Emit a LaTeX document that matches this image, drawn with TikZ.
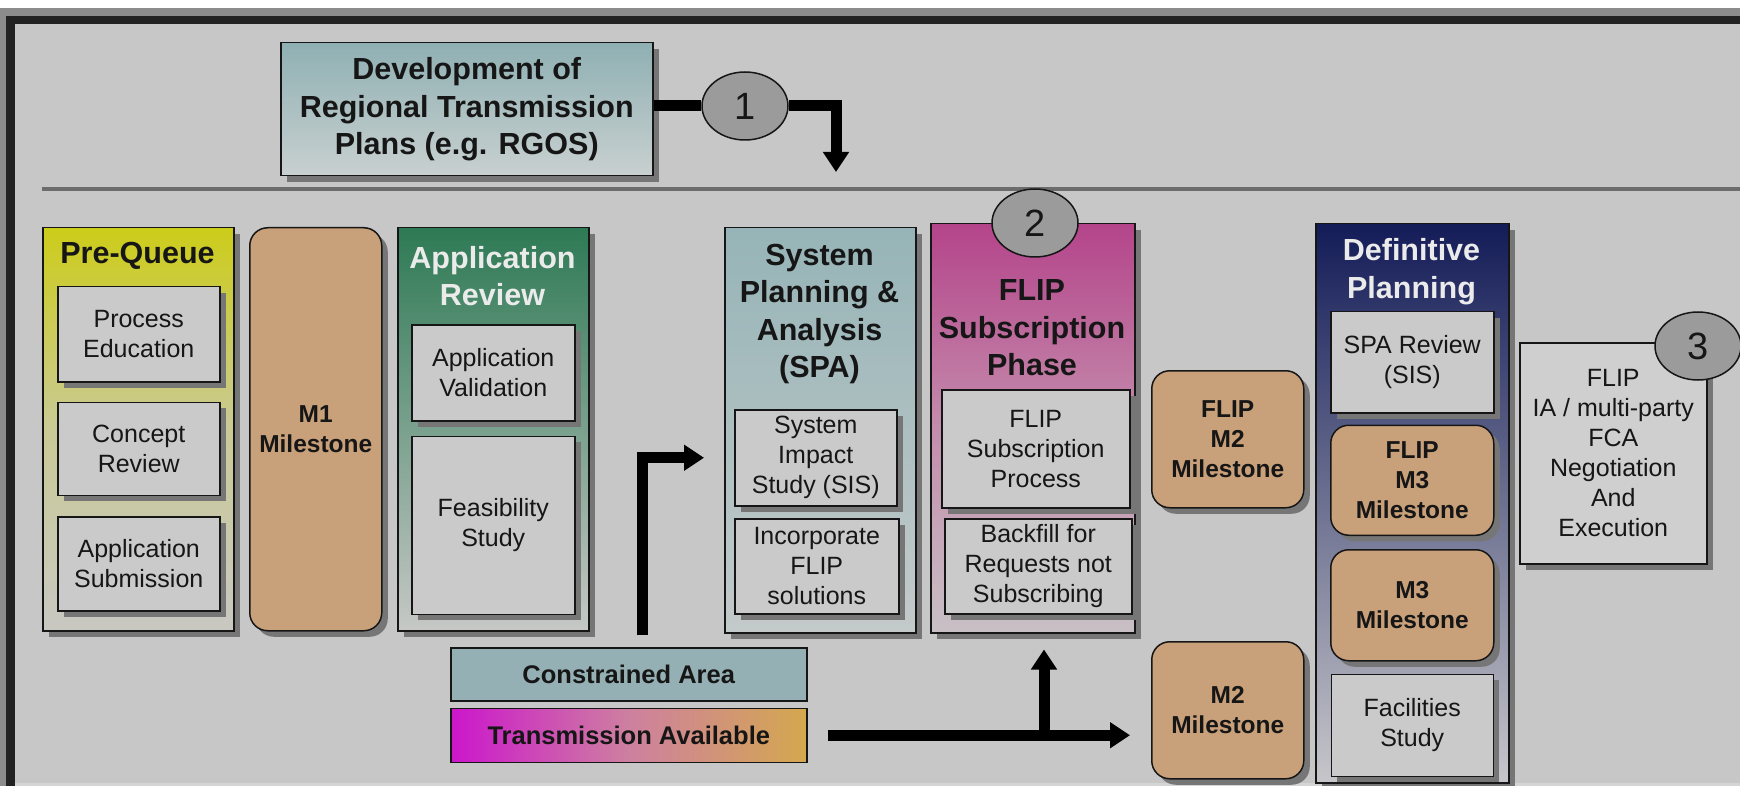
\documentclass[tikz,border=0pt]{standalone}
\usepackage{fontspec}
\setmainfont{Liberation Sans}
\usetikzlibrary{shapes.geometric, arrows.meta, positioning, shadows}

\definecolor{canvas}{RGB}{199,199,199}
\definecolor{framegray}{RGB}{140,140,140}
\definecolor{framedark}{RGB}{34,34,34}
\definecolor{taskgray}{RGB}{202,202,202}
\definecolor{iagray}{RGB}{207,207,207}
\definecolor{shadowgray}{RGB}{118,118,118}
\definecolor{miletan}{RGB}{200,160,122}
\definecolor{badgegray}{RGB}{155,155,155}
\definecolor{divgray}{RGB}{108,108,108}
\definecolor{inkblack}{RGB}{22,22,22}
\definecolor{rgosteal}{RGB}{143,176,179}
\definecolor{rgoslight}{RGB}{201,208,208}
\definecolor{pqyellow}{RGB}{204,204,26}
\definecolor{pqmid}{RGB}{202,202,150}
\definecolor{pqgray}{RGB}{200,200,194}
\definecolor{argreen}{RGB}{46,122,85}
\definecolor{argray}{RGB}{198,200,198}
\definecolor{spateal}{RGB}{150,180,183}
\definecolor{spagray}{RGB}{196,202,202}
\definecolor{flipmag}{RGB}{180,68,138}
\definecolor{flipmid}{RGB}{196,140,172}
\definecolor{flipgray}{RGB}{200,192,197}
\definecolor{dpnavy}{RGB}{20,28,88}
\definecolor{dpgray}{RGB}{198,198,202}
\definecolor{areateal}{RGB}{149,176,180}
\definecolor{tamag}{RGB}{204,22,204}
\definecolor{tamid}{RGB}{206,128,160}
\definecolor{tagold}{RGB}{212,168,78}

\newcommand{\taskfont}{\fontsize{25}{30}\selectfont}
\newcommand{\phasefont}{\fontsize{30.5}{37.5}\selectfont\bfseries}
\newcommand{\milefont}{\fontsize{24.5}{30}\selectfont\bfseries}
\newcommand{\legendfont}{\fontsize{25.5}{30}\selectfont\bfseries}
\newcommand{\badgefont}{\fontsize{38}{40}\selectfont}

\begin{document}
\begin{tikzpicture}[
    x=1pt, y=-1pt,
    boxshadow/.style={drop shadow={shadow xshift=6pt, shadow yshift=-6pt,
                      fill=shadowgray, opacity=1}},
    phase/.style={draw=inkblack, line width=1.5pt, anchor=north west,
                  inner sep=0pt, boxshadow},
    phasename/.style={align=center, font=\phasefont, text=inkblack, inner sep=0pt},
    task/.style={draw=inkblack, line width=1.5pt, fill=taskgray, anchor=north west,
                 inner sep=2pt, align=center, text=inkblack, font=\taskfont,
                 minimum width=162pt, boxshadow},
    mile/.style={task, fill=miletan, rounded corners=18pt, font=\milefont},
    legend/.style={draw=inkblack, line width=1.5pt, anchor=north west, inner sep=0pt,
                   minimum width=356pt, minimum height=53pt, text=inkblack, font=\legendfont},
    badge/.style={ellipse, draw=inkblack, line width=1.5pt, fill=badgegray,
                  minimum width=86pt, minimum height=68pt, inner sep=0pt,
                  text=inkblack, font=\badgefont},
    link/.style={line width=11pt, draw=black},
    flow/.style={link, -{Triangle[length=20pt, width=25pt]}}
]
\useasboundingbox (0,0) rectangle (1740,786);

% frame and page
\fill[white] (0,0) rectangle (1740,786);
\fill[framegray] (0,8) rectangle (1740,786);
\fill[framedark] (6,16) rectangle (1740,786);
\fill[canvas] (15,24) rectangle (1740,786);
\fill[canvas!75!white] (15,783) rectangle (1740,786);
\draw[divgray, line width=4pt] (42,189) -- (1740,189);

% regional plans
\node[phase, top color=rgosteal, bottom color=rgoslight, minimum width=372pt,
      minimum height=133pt, align=center, font=\phasefont, text=inkblack]
      (rgos) at (280,42) {Development of\\Regional Transmission\\Plans (e.g. RGOS)};
\node[badge] (c1) at (745,106) {1};
\coordinate (drop1) at (836,172);
\draw[link] (rgos.east |- c1.west) -- (c1.west);
\draw[flow] (c1.east) -| (drop1);

% pre-queue
\node[phase, top color=pqyellow, bottom color=pqgray, middle color=pqmid,
      minimum width=191pt, minimum height=403pt] (preq) at (42,227) {};
\node[phasename] (preqt) at (137.5,256) {Pre-Queue};
\node[task, minimum height=95pt] (procedu) at (57,286) {Process\\Education};
\node[task, minimum height=93pt, below=19pt of procedu] (concrev) {Concept\\Review};
\node[task, minimum height=94pt, below=20pt of concrev] (appsub) {Application\\Submission};

\node[mile, minimum width=132pt, minimum height=403pt] (m1) at (249,227) {M1\\Milestone};

% application review
\node[phase, top color=argreen, bottom color=argray, minimum width=191pt,
      minimum height=403pt] (apprev) at (397,227) {};
\node[phasename, text=white!92!black] (apprevt) at (492.5,276) {Application\\Review};
\node[task, minimum width=163pt, minimum height=96pt] (appval) at (411,324) {Application\\Validation};
\node[task, minimum width=163pt, minimum height=178pt, below=14pt of appval] (feasib) {Feasibility\\Study};

% system planning
\node[phase, top color=spateal, bottom color=spagray, minimum width=191pt,
      minimum height=405pt] (spa) at (724,227) {};
\node[phasename] (spat) at (819.5,314) {System\\Planning \&\\Analysis\\(SPA)};
\node[task, minimum height=96pt] (sis) at (734,409) {System\\Impact\\Study (SIS)};
\node[task, minimum width=164pt, minimum height=95pt] (incflip) at (734,518) {Incorporate\\FLIP\\solutions};

% flip subscription
\node[phase, top color=flipmag, bottom color=flipgray, middle color=flipmid,
      minimum width=204pt, minimum height=409pt] (flipph) at (930,223) {};
\node[phasename] (flipt) at (1032,328) {FLIP\\Subscription\\Phase};
\node[task, minimum width=188pt, minimum height=118pt] (subproc) at (941,389) {FLIP\\Subscription\\Process};
\node[task, minimum width=187pt, minimum height=95pt] (backfill) at (944,518) {Backfill for\\Requests not\\Subscribing};
\node[badge] (c2) at (1035,223) {2};

\node[mile, minimum width=152pt, minimum height=137pt] (fm2) at (1151,370) {FLIP\\M2\\Milestone};
\node[mile, minimum width=152pt, minimum height=137pt] (m2) at (1151,641) {M2\\Milestone};

% definitive planning
\node[phase, top color=dpnavy, bottom color=dpgray, minimum width=193pt,
      minimum height=559pt] (defplan) at (1315,223) {};
\node[phasename, text=white!92!black] (defplant) at (1411.5,271.5) {Definitive\\Planning};
\node[task, minimum width=163pt, minimum height=101pt] (sparev) at (1330,311) {SPA Review\\(SIS)};
\node[mile, minimum width=163pt, minimum height=110pt, below=11pt of sparev] (fm3) {FLIP\\M3\\Milestone};
\node[mile, minimum width=163pt, minimum height=111pt, below=13pt of fm3] (m3) {M3\\Milestone};
\node[task, minimum width=162pt, minimum height=102pt, below=12pt of m3] (facil) {Facilities\\Study};

\node[task, fill=iagray, minimum width=187pt, minimum height=221pt] (flipia) at (1519,342)
      {FLIP\\IA / multi-party\\FCA\\Negotiation\\And\\Execution};
\node[badge] (c3) at (1698,346) {3};

% legend
\node[legend, fill=areateal] (area) at (450,647) {Constrained Area};
\node[legend, left color=tamag, right color=tagold, middle color=tamid,
      minimum height=54pt, below=6pt of area] (transav) {Transmission Available};

% connectors
\coordinate (rise) at (642,635);
\draw[flow] (rise) |- ([xshift=-20pt]spa.west |- sis.west);
\coordinate (fork) at (1044,733);
\draw[flow] ([xshift=20pt]transav.east) -- ([xshift=-21pt]m2.west |- transav.east);
\draw[flow] (fork) -- ([yshift=-16pt]fork |- flipph.south);
\end{tikzpicture}
\end{document}
